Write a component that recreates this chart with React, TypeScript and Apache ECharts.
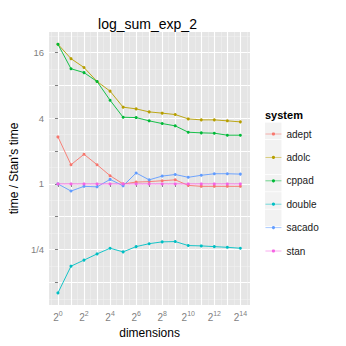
import React, { useEffect, useRef } from 'react';
import * as echarts from 'echarts';

const dimensions = [1, 2, 4, 8, 16, 32, 64, 128, 256, 512, 1024, 2048, 4096, 8192, 16384];
const systems = ['adept', 'adolc', 'cppad', 'double', 'sacado', 'stan'];
const colors = ['#F8766D', '#B79F00', '#00BA38', '#00BFC4', '#619CFF', '#F564E3'];

const adept = [2.70, 1.50, 1.87, 1.50, 1.19, 1.00, 1.04, 1.05, 1.07, 1.09, 0.97, 0.95, 0.95, 0.95, 0.95];
const adolc = [19.1, 14.1, 11.7, 8.7, 7.1, 5.06, 4.88, 4.58, 4.46, 4.33, 3.95, 3.87, 3.87, 3.79, 3.71];
const cppad = [19.1, 11.4, 10.5, 8.7, 5.86, 4.09, 4.06, 3.79, 3.58, 3.41, 2.98, 2.94, 2.92, 2.80, 2.80];
const doubleVals = [0.10, 0.176, 0.20, 0.228, 0.257, 0.238, 0.266, 0.283, 0.294, 0.296, 0.272, 0.270, 0.266, 0.262, 0.257];
const sacado = [1.0, 0.86, 0.95, 0.94, 1.10, 0.96, 1.26, 1.09, 1.18, 1.22, 1.15, 1.20, 1.24, 1.24, 1.23];
const stan = [1, 1, 1, 1, 1, 1, 1, 1, 1, 1, 1, 1, 1, 1, 1];

const seriesValues = [adept, adolc, cppad, doubleVals, sacado, stan];

const yBreaks = [0.125, 0.25, 0.5, 1, 2, 4, 8, 16];
const yLabelBreaks = [0.25, 1, 4, 16];
const yBreakLabels = ['1/4', '1', '4', '16'];
const xLabelExponents = [0, 2, 4, 6, 8, 10, 12, 14];

const log2 = (v: number) => Math.log2(v);

export default function App() {
  const ref = useRef<HTMLDivElement>(null);
  useEffect(() => {
    if (!ref.current) return;
    const chart = echarts.init(ref.current, undefined, { renderer: 'svg' });
    const xMajor = dimensions.map((d) => log2(d));
    const xMinor = xMajor.slice(0, -1).map((v) => v + 0.5).concat([-0.5, 14.5]);
    const yMajor = yBreaks.map(log2);
    const yLabelVals = yLabelBreaks.map(log2);
    const yMinor = yMajor.map((v) => v + 0.5).concat([-3.5]);
    const grey = '#7F7F7F';
    const font = 'Liberation Sans, Arial, sans-serif';

    const keyRects = systems.map((_, i) => ({
      type: 'rect',
      z: -1,
      shape: { x: 265, y: 122.6 + i * 17.4, width: 16.5, height: 16.6 },
      style: { fill: '#F2F2F2' },
    }));

    chart.setOption({
      animation: false,
      backgroundColor: '#FFFFFF',
      grid: { left: 45, right: 96, top: 32, bottom: 41, backgroundColor: '#E5E5E5', show: true, borderWidth: 0 },
      xAxis: [
        {
          type: 'value',
          min: -0.68,
          max: 14.74,
          name: 'dimensions',
          nameLocation: 'middle',
          nameGap: 18,
          nameTextStyle: { color: '#000', fontSize: 12, fontFamily: font },
          axisLine: { show: false },
          axisTick: { show: true, length: 3, lineStyle: { color: grey }, customValues: xMajor },
          axisLabel: {
            customValues: xLabelExponents,
            margin: 5,
            formatter: (v: number) => `{b|2}{s|${Math.round(v)}}`,
            rich: {
              b: { fontSize: 10, color: grey, fontFamily: font },
              s: { fontSize: 7, color: grey, fontFamily: font, padding: [0, 0, 7, 0] },
            },
          },
          splitLine: { show: true, lineStyle: { color: '#FFFFFF', width: 1.1 } },
        },
        {
          type: 'value',
          min: -0.68,
          max: 14.74,
          axisLine: { show: false },
          axisTick: { show: false, customValues: xMinor },
          axisLabel: { show: false, customValues: xMinor },
          splitLine: { show: true, lineStyle: { color: '#F2F2F2', width: 0.5 } },
        },
      ],
      yAxis: [
        {
          type: 'value',
          min: -3.69,
          max: 4.63,
          name: "time / Stan's time",
          nameLocation: 'middle',
          nameGap: 24,
          nameTextStyle: { color: '#000', fontSize: 12, fontFamily: font },
          axisLine: { show: false },
          axisTick: { show: true, length: 3, lineStyle: { color: grey }, customValues: yMajor },
          axisLabel: {
            customValues: yLabelVals,
            margin: 5,
            color: grey,
            fontSize: 9.5,
            fontFamily: font,
            formatter: (v: number) => {
              const idx = yLabelVals.findIndex((m) => Math.abs(m - v) < 1e-6);
              return idx >= 0 ? yBreakLabels[idx] : '';
            },
          },
          splitLine: { show: true, lineStyle: { color: '#FFFFFF', width: 1.1 } },
        },
        {
          type: 'value',
          min: -3.69,
          max: 4.63,
          axisLine: { show: false },
          axisTick: { show: false, customValues: yMinor },
          axisLabel: { show: false, customValues: yMinor },
          splitLine: { show: true, lineStyle: { color: '#F2F2F2', width: 0.5 } },
        },
      ],
      legend: {
        orient: 'vertical',
        left: 265,
        top: 129,
        itemWidth: 16,
        itemHeight: 4,
        itemGap: 13.4,
        padding: 0,
        data: systems,
        lineStyle: { width: 0.9, opacity: 0.6 },
        textStyle: { fontSize: 10, color: '#1A1A1A', lineHeight: 4, fontFamily: font },
      },
      graphic: [
        {
          type: 'text',
          x: 147.5,
          y: 24,
          style: {
            text: 'log_sum_exp_2',
            fontSize: 14,
            fill: '#000',
            align: 'center',
            verticalAlign: 'middle',
            fontFamily: font,
          },
        },
        {
          type: 'text',
          x: 265,
          y: 115,
          style: {
            text: 'system',
            fontSize: 11,
            fontWeight: 'bold',
            fill: '#000',
            align: 'left',
            verticalAlign: 'middle',
            fontFamily: font,
          },
        },
        ...keyRects,
      ],
      series: systems.map((name, i) => ({
        name,
        type: 'line',
        xAxisIndex: 0,
        yAxisIndex: 0,
        data: seriesValues[i].map((v, j) => [log2(dimensions[j]), log2(v)]),
        symbol: 'circle',
        symbolSize: 3,
        showSymbol: true,
        lineStyle: { width: 0.9, color: colors[i] },
        itemStyle: { color: colors[i] },
        z: 2 + i,
      })),
    });
    return () => chart.dispose();
  }, []);
  return <div ref={ref} style={{ width: 346, height: 346, position: 'absolute', left: 0, top: 0 }} />;
}
